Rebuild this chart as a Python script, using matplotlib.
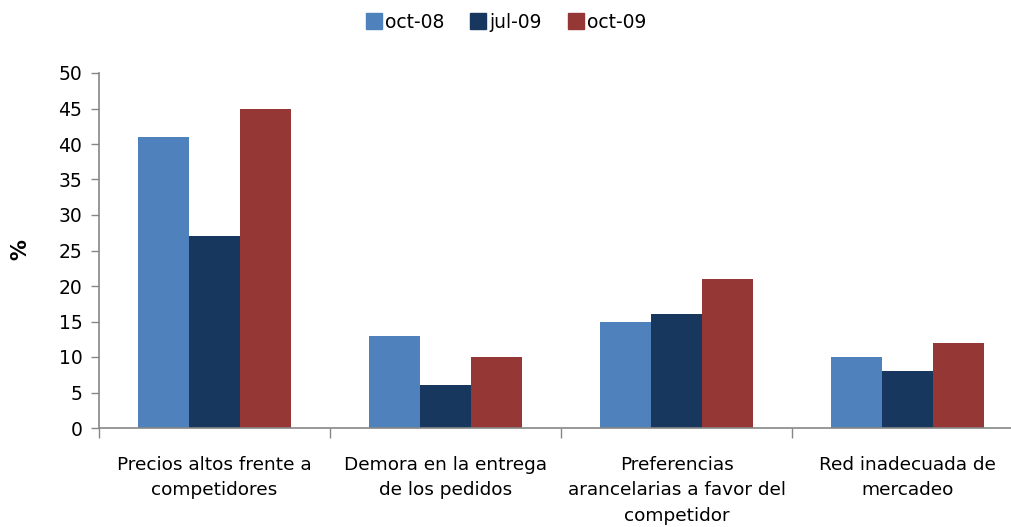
import matplotlib.pyplot as plt
import numpy as np
from matplotlib.lines import Line2D

# 数据
categories = ['Precios altos frente a\ncompetidores',
              'Demora en la entrega\nde los pedidos',
              'Preferencias\narancelarias a favor del\ncompetidor',
              'Red inadecuada de\nmercadeo']
series_names = ['oct-08', 'jul-09', 'oct-09']
oct08 = [41, 13, 15, 10]
jul09 = [27, 6, 16, 8]
oct09 = [45, 10, 21, 12]
yticks = [0, 5, 10, 15, 20, 25, 30, 35, 40, 45, 50]

colors = ['#4F81BD', '#17375E', '#953735']

plt.rcParams['font.family'] = ['DejaVu Sans']
plt.rcParams['font.size'] = 12

fig = plt.figure(figsize=(10.11, 5.27), dpi=100)
W, H = 1011, 527
# 坐标轴位置（像素换算）
ax = fig.add_axes([99 / W, 1 - 428 / H, 924 / W, 355 / H])

n = len(categories)
x = np.arange(n)
bw = 0.222
for i, (vals, c, name) in enumerate(zip([oct08, jul09, oct09], colors, series_names)):
    ax.bar(x + (i - 1) * bw, vals, width=bw, color=c, label=name, edgecolor='none')

ax.set_xlim(-0.5, n - 0.5)
ax.set_ylim(0, 50)
ax.set_yticks(yticks)
ax.set_yticklabels([str(t) for t in yticks], fontsize=13.5)

# x 轴：刻度在分组边界，标签在中心
ax.set_xticks(np.arange(n + 1) - 0.5)
ax.set_xticklabels([])
ax.set_xticks(x, minor=True)
ax.set_xticklabels(categories, minor=True, fontsize=13.3, linespacing=1.55, va='top')
ax.tick_params(axis='x', which='minor', length=0, pad=20)
ax.tick_params(axis='x', which='major', length=7, width=1, color='#868686', direction='out')
ax.tick_params(axis='y', length=6, width=1, color='#868686', direction='out', pad=6)

for s in ['top', 'right']:
    ax.spines[s].set_visible(False)
for s in ['left', 'bottom']:
    ax.spines[s].set_color('#868686')
    ax.spines[s].set_linewidth(1.2)

fig.text(20 / W, 1 - 250 / H, '%', rotation=90, fontsize=15, fontweight='bold',
         ha='center', va='center')

legend_elements = [Line2D([0], [0], marker='s', color=c, linewidth=0, markersize=12, label=nm)
                   for c, nm in zip(colors, series_names)]
fig.legend(handles=legend_elements, loc='center', bbox_to_anchor=(0.5, 1 - 22 / H), ncol=3,
           frameon=False, fontsize=13.5, handletextpad=0.1, columnspacing=1.3, handlelength=1.0)

fig.savefig('out.png', dpi=100)
